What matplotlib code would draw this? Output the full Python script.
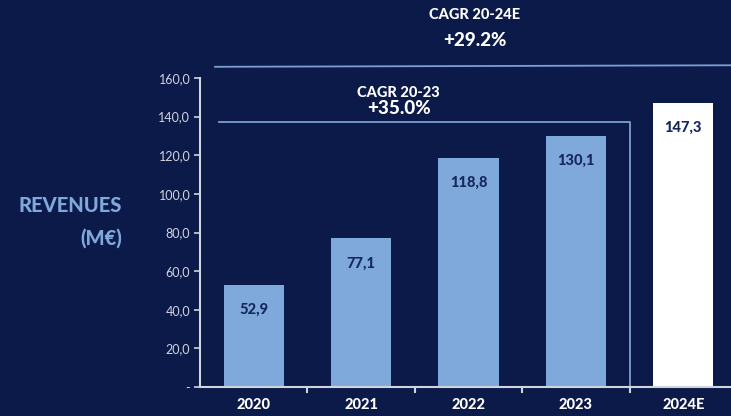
import matplotlib
matplotlib.use("Agg")
import matplotlib.pyplot as plt
import numpy as np

years = ["2020", "2021", "2022", "2023", "2024E"]
revenues = [52.9, 77.1, 118.8, 130.1, 147.3]
value_labels = ["52,9", "77,1", "118,8", "130,1", "147,3"]
y_ticks = [0, 20, 40, 60, 80, 100, 120, 140, 160]
y_tick_labels = ["-", "20,0", "40,0", "60,0", "80,0", "100,0", "120,0", "140,0", "160,0"]
cagr_short = ("CAGR 20-23", "+35.0%")
cagr_long = ("CAGR 20-24E", "+29.2%")

navy = "#0c1a4a"
light_blue = "#7fa9da"
line_blue = "#7b9fd0"
axis_grey = "#d0d4de"

plt.rcParams["font.family"] = ["Lato", "DejaVu Sans"]

fig = plt.figure(figsize=(7.31, 4.16), dpi=100)
fig.patch.set_facecolor(navy)
ax = fig.add_axes([200 / 731, 29 / 416, 537 / 731, 309 / 416])
ax.set_facecolor(navy)

x = np.arange(len(years))
colors = [light_blue] * 4 + ["white"]
ax.bar(x, revenues, width=0.56, color=colors)
for xi, v, lab in zip(x, revenues, value_labels):
    ax.text(xi, v - 9.5, lab, ha="center", va="top", fontsize=10.5,
            fontweight="black", color="#14285e")

ax.set_xlim(-0.5, 4.5)
ax.set_ylim(0, 160)
ax.set_yticks(y_ticks)
ax.set_yticklabels(y_tick_labels, color=axis_grey, fontsize=9)
ax.set_xticks(x)
ax.set_xticklabels(years, color="white", fontsize=10.5, fontweight="black")
ax.set_xticks([0.5, 1.5, 2.5, 3.5], minor=True)
ax.tick_params(axis="x", which="major", length=0, pad=8)
ax.tick_params(axis="x", which="minor", length=4, width=1.5, color=axis_grey, direction="out")
ax.tick_params(axis="y", length=4, width=1.2, color=axis_grey, pad=3)

for s in ["top", "right"]:
    ax.spines[s].set_visible(False)
ax.spines["left"].set_color(axis_grey)
ax.spines["left"].set_linewidth(1.5)
ax.spines["bottom"].set_color(axis_grey)
ax.spines["bottom"].set_linewidth(1.5)

# CAGR brackets
ax.plot([-0.32, 3.5, 3.5], [137.2, 137.2, 0], color=line_blue, lw=1.3, clip_on=False)
ax.plot([-0.36, 4.5], [165.8, 166.6], color=line_blue, lw=1.3, clip_on=False)

ax.text(1.35, 152, cagr_short[0], ha="center", va="center", fontsize=10.5,
        fontweight="black", color="white")
ax.text(1.35, 144, cagr_short[1], ha="center", va="center", fontsize=13.5,
        fontweight="black", color="white")
fig.text(475 / 731, 1 - 15 / 416, cagr_long[0], ha="center", va="center",
         fontsize=10.5, fontweight="black", color="white")
fig.text(475 / 731, 1 - 40 / 416, cagr_long[1], ha="center", va="center",
         fontsize=13.5, fontweight="black", color="white")

fig.text(122 / 731, 1 - 205 / 416, "REVENUES", ha="right", va="center",
         fontsize=14.5, fontweight="black", color=light_blue)
fig.text(122 / 731, 1 - 238 / 416, "(M€)", ha="right", va="center",
         fontsize=14.5, fontweight="black", color=light_blue)

fig.savefig("out.png", dpi=100, facecolor=navy)
